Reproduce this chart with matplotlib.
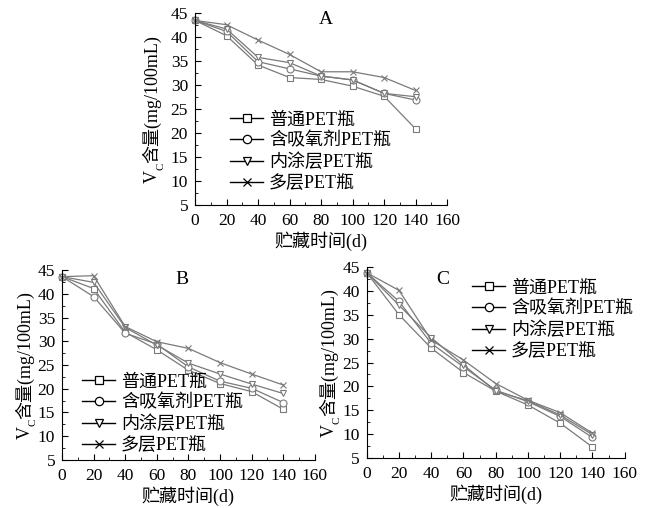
import matplotlib
matplotlib.use("Agg")
import matplotlib.pyplot as plt
from matplotlib.lines import Line2D
from matplotlib.ticker import MultipleLocator

plt.rcParams['font.family'] = ['Liberation Serif', 'Noto Sans CJK SC']

days = [0, 20, 40, 60, 80, 100, 120, 140]
labels = ["普通PET瓶", "含吸氧剂PET瓶", "内涂层PET瓶", "多层PET瓶"]
markers = ["s", "o", "v", "x"]

# 图 A
a_plain = [43.5, 40.3, 34.2, 31.6, 31.2, 29.8, 27.7, 20.9]
a_absorb = [43.5, 41.2, 34.9, 33.4, 31.9, 31.1, 28.3, 26.9]
a_coat = [43.5, 41.7, 35.8, 34.7, 31.9, 31.1, 28.3, 27.6]
a_multi = [43.5, 42.6, 39.4, 36.4, 32.8, 32.8, 31.6, 28.9]

# 图 B
b_plain = [43.6, 41.1, 31.9, 28.2, 23.9, 21.1, 19.4, 15.7]
b_absorb = [43.6, 39.4, 31.7, 29.4, 24.6, 21.6, 20.1, 17.1]
b_coat = [43.6, 42.4, 32.9, 29.2, 25.4, 23.1, 21.0, 19.0]
b_multi = [43.6, 43.8, 33.1, 29.9, 28.5, 25.5, 23.1, 20.8]

# 图 C
c_plain = [43.8, 35.0, 28.0, 22.9, 19.0, 16.1, 12.3, 7.3]
c_absorb = [43.8, 37.8, 29.0, 24.1, 19.2, 16.8, 13.7, 9.3]
c_coat = [43.8, 37.0, 30.2, 24.5, 19.0, 17.0, 14.0, 9.9]
c_multi = [43.8, 40.1, 29.7, 25.5, 20.6, 17.1, 14.5, 10.2]

W, H = 648, 508
FS = 13

# 名称, 数据, 轴位置, 字母位置(px), 图例位置(px), y标签基线x(px)
panels = [
    ("A", [a_plain, a_absorb, a_coat, a_multi], [0.301, 0.596, 0.389, 0.378],
     (326, 20), (221, 152), 157),
    ("B", [b_plain, b_absorb, b_coat, b_multi], [0.0957, 0.0945, 0.390, 0.374],
     (182, 280), (73, 414), 30),
    ("C", [c_plain, c_absorb, c_coat, c_multi], [0.566, 0.0984, 0.398, 0.376],
     (443, 280), (463, 320), 334),
]

fig = plt.figure(figsize=(W / 100, H / 100), dpi=100)
renderer = fig.canvas.get_renderer()
line_color = "#7a7a7a"


def vc_label(base_x, center_y):
    # 竖排 "V_C含量(mg/100mL)"，手动拼接下标
    parts = [("V", FS, 0), ("C", FS * 0.6, 6), ("含量(mg/100mL)", FS, 0)]
    texts = []
    for s, fs, dx in parts:
        t = fig.text(0, 0, s, rotation=90, fontsize=fs, ha="left",
                     va="baseline", rotation_mode="anchor",
                     transform=None)
        texts.append((t, dx))
    lengths = [t.get_window_extent(renderer).height for t, _ in texts]
    y = center_y - sum(lengths) / 2
    for (t, dx), L in zip(texts, lengths):
        t.set_position((base_x + dx, y))
        y += L


for name, series, rect, title_pos, leg_pos, ylab_x in panels:
    ax = fig.add_axes(rect)
    for vals, m in zip(series, markers):
        ax.plot(days, vals, color=line_color, lw=0.9, marker=m, ms=5,
                mfc="white" if m != "x" else line_color, mec=line_color,
                mew=0.8, clip_on=False)
    ax.set_xlim(0, 160)
    ax.set_ylim(5, 45)
    ax.xaxis.set_major_locator(MultipleLocator(20))
    ax.xaxis.set_minor_locator(MultipleLocator(10))
    ax.yaxis.set_major_locator(MultipleLocator(5))
    ax.yaxis.set_minor_locator(MultipleLocator(2.5))
    ax.tick_params(which="both", direction="in", labelsize=12.5)
    ax.tick_params(which="major", length=4)
    ax.tick_params(which="minor", length=2)
    ax.tick_params(axis="x", pad=5.5)
    ax.tick_params(axis="y", pad=5)
    ax.spines["top"].set_visible(False)
    ax.spines["right"].set_visible(False)
    ax.set_xlabel("贮藏时间(d)", fontsize=FS, labelpad=2)

    # y 标签居中于轴 (像素坐标, 原点在左下)
    cy = (rect[1] + rect[3] / 2) * H
    vc_label(ylab_x, cy)

    fig.text(title_pos[0] / W, 1 - title_pos[1] / H, name, fontsize=14,
             ha="center", va="center")

    handles = [Line2D([0], [0], color="black", lw=1.0, marker=m, ms=6,
                      mfc="white", mec="black", mew=0.9) for m in markers]
    ax.legend(handles, labels, loc="center left",
              bbox_to_anchor=(leg_pos[0] / W, 1 - leg_pos[1] / H),
              bbox_transform=fig.transFigure, frameon=False, fontsize=FS,
              borderpad=0, handlelength=1.85, handletextpad=0.3,
              labelspacing=0.22)

fig.savefig("out.png", dpi=100)
